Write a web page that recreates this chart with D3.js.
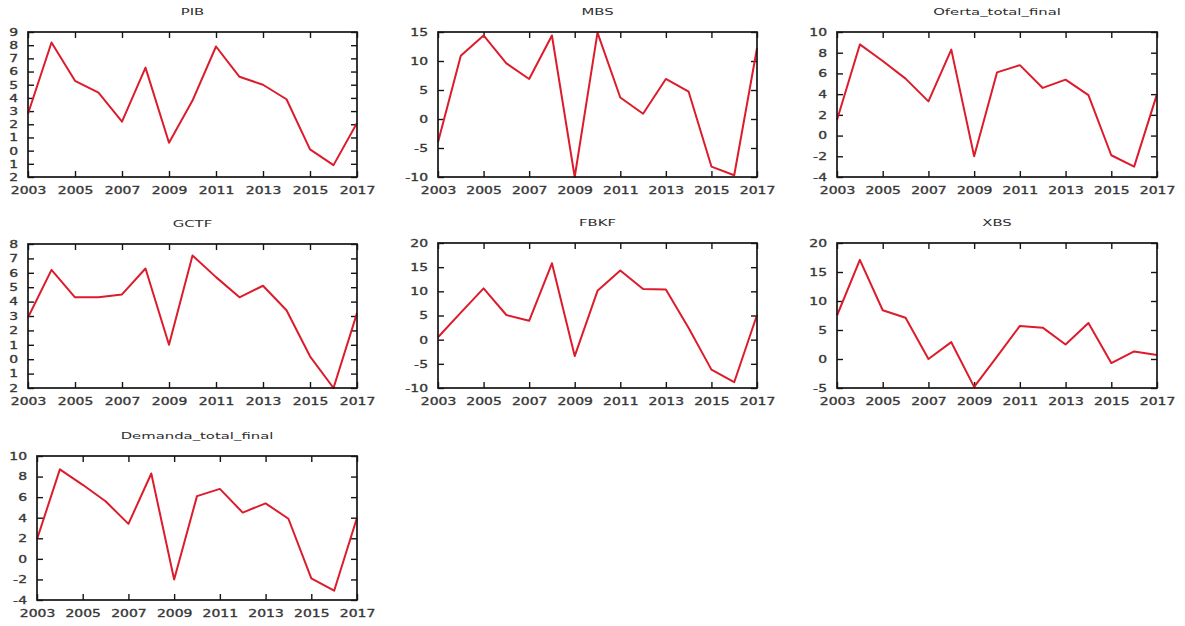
<!DOCTYPE html>
<html>
<head>
<meta charset="utf-8">
<script src="https://cdn.jsdelivr.net/npm/d3@7"></script>
<style>
  body { margin: 0; background: #fff; }
  svg { display: block; }
  text { font-family: "DejaVu Sans", sans-serif; fill: #2e2e2e; }
</style>
</head>
<body>
<svg id="chart" width="1185" height="626"></svg>
<script>
// Annual growth rates (%), 2003-2017
const years = [2003, 2004, 2005, 2006, 2007, 2008, 2009, 2010, 2011, 2012, 2013, 2014, 2015, 2016, 2017];
const xTickYears = [2003, 2005, 2007, 2009, 2011, 2013, 2015, 2017];
const xTickLabels = ["2003", "2005", "2007", "2009", "2011", "2013", "2015", "2017"];

const pib = [2.8, 8.2, 5.3, 4.4, 2.2, 6.3, 0.6, 3.8, 7.9, 5.6, 5.0, 3.9, 0.1, -1.1, 2.1];
const mbs = [-4.0, 10.9, 14.4, 9.6, 6.9, 14.4, -10.0, 14.9, 3.7, 0.9, 6.9, 4.7, -8.2, -9.7, 12.2];
const ofertaTotalFinal = [1.5, 8.8, 7.2, 5.5, 3.3, 8.3, -2.0, 6.1, 6.8, 4.6, 5.4, 3.9, -1.9, -3.0, 4.0];
const gctf = [2.9, 6.2, 4.3, 4.3, 4.5, 6.3, 1.0, 7.2, 5.7, 4.3, 5.1, 3.4, 0.2, -2.0, 3.2];
const fbkf = [0.5, 5.6, 10.6, 5.1, 3.9, 15.8, -3.4, 10.1, 14.3, 10.5, 10.4, 2.4, -6.2, -8.8, 5.1];
const xbs = [7.5, 17.1, 8.4, 7.1, 0.0, 2.9, -4.8, 0.4, 5.7, 5.4, 2.5, 6.2, -0.7, 1.3, 0.7];
const demandaTotalFinal = [1.9, 8.7, 7.2, 5.6, 3.4, 8.3, -2.0, 6.1, 6.8, 4.5, 5.4, 3.9, -1.9, -3.1, 4.0];

// y tick values and the labels printed beside them
const pibYTicks = [-2, -1, 0, 1, 2, 3, 4, 5, 6, 7, 8, 9];
const pibYLabels = ["2", "1", "0", "1", "2", "3", "4", "5", "6", "7", "8", "9"];
const mbsYTicks = [-10, -5, 0, 5, 10, 15];
const mbsYLabels = ["-10", "-5", "0", "5", "10", "15"];
const ofertaYTicks = [-4, -2, 0, 2, 4, 6, 8, 10];
const ofertaYLabels = ["-4", "-2", "0", "2", "4", "6", "8", "10"];
const gctfYTicks = [-2, -1, 0, 1, 2, 3, 4, 5, 6, 7, 8];
const gctfYLabels = ["2", "1", "0", "1", "2", "3", "4", "5", "6", "7", "8"];
const fbkfYTicks = [-10, -5, 0, 5, 10, 15, 20];
const fbkfYLabels = ["-10", "-5", "0", "5", "10", "15", "20"];
const xbsYTicks = [-5, 0, 5, 10, 15, 20];
const xbsYLabels = ["-5", "0", "5", "10", "15", "20"];
const demandaYTicks = [-4, -2, 0, 2, 4, 6, 8, 10];
const demandaYLabels = ["-4", "-2", "0", "2", "4", "6", "8", "10"];

const series = [
  { title: "PIB", values: pib, yTicks: pibYTicks, yLabels: pibYLabels },
  { title: "MBS", values: mbs, yTicks: mbsYTicks, yLabels: mbsYLabels },
  { title: "Oferta_total_final", values: ofertaTotalFinal, yTicks: ofertaYTicks, yLabels: ofertaYLabels },
  { title: "GCTF", values: gctf, yTicks: gctfYTicks, yLabels: gctfYLabels },
  { title: "FBKF", values: fbkf, yTicks: fbkfYTicks, yLabels: fbkfYLabels },
  { title: "XBS", values: xbs, yTicks: xbsYTicks, yLabels: xbsYLabels },
  { title: "Demanda_total_final", values: demandaTotalFinal, yTicks: demandaYTicks, yLabels: demandaYLabels }
];

// plot frames: [left, top, right, bottom]
const frames = [
  [28, 32, 357, 177], [438, 32, 757, 177], [837, 32, 1157, 177],
  [28, 244, 357, 388], [438, 243, 757, 388], [837, 243, 1157, 388],
  [37, 456, 357, 600]
];

const svg = d3.select("#chart");
const LINE = "#dc1c2c";
const INK = "#151515";
const TICK = 6;
const labelStretch = "scale(1.33,1)";

series.forEach((s, i) => {
  const [l, t, r, b] = frames[i];
  const x = d3.scaleLinear().domain([years[0], years[years.length - 1]]).range([l, r]);
  const yExt = d3.extent(s.yTicks);
  const y = d3.scaleLinear().domain(yExt).range([b, t]);
  const g = svg.append("g");

  const labelOf = (ticks, labels) => v => labels[ticks.indexOf(v)];

  // bottom axis with labels, ticks pointing inward
  const bottom = g.append("g").attr("transform", `translate(0,${b})`)
    .call(d3.axisBottom(x).tickValues(xTickYears).tickFormat(labelOf(xTickYears, xTickLabels))
      .tickSize(-TICK).tickPadding(10));
  // top mirror ticks
  const top = g.append("g").attr("transform", `translate(0,${t})`)
    .call(d3.axisTop(x).tickValues(xTickYears).tickFormat("").tickSize(-TICK));
  // left axis with labels
  const left = g.append("g").attr("transform", `translate(${l},0)`)
    .call(d3.axisLeft(y).tickValues(s.yTicks).tickFormat(labelOf(s.yTicks, s.yLabels))
      .tickSize(-TICK).tickPadding(7.5));
  // right mirror ticks
  const right = g.append("g").attr("transform", `translate(${r},0)`)
    .call(d3.axisRight(y).tickValues(s.yTicks).tickFormat("").tickSize(-TICK));

  [bottom, top, left, right].forEach(a => {
    a.select(".domain").remove();
    a.selectAll(".tick line").attr("stroke", INK).attr("stroke-width", 1.4);
    a.selectAll("text").style("font-size", "10.5px").attr("fill", "#222")
      .attr("stroke", "#444").attr("stroke-width", 0.35)
      .attr("transform", labelStretch);
  });

  // data line
  g.append("path")
    .datum(s.values)
    .attr("fill", "none")
    .attr("stroke", LINE)
    .attr("stroke-width", 2)
    .attr("stroke-linejoin", "round")
    .attr("d", d3.line().x((d, k) => x(years[k])).y(d => y(d)));

  // frame
  g.append("rect")
    .attr("x", l).attr("y", t).attr("width", r - l).attr("height", b - t)
    .attr("fill", "none").attr("stroke", INK).attr("stroke-width", 1.7);

  // title
  g.append("text")
    .attr("transform", `translate(${(l + r) / 2},${t - 17}) scale(1.65,1)`)
    .attr("text-anchor", "middle")
    .style("font-size", "9px")
    .attr("fill", "#3a3a3a")
    .text(s.title);
});
</script>
</body>
</html>
